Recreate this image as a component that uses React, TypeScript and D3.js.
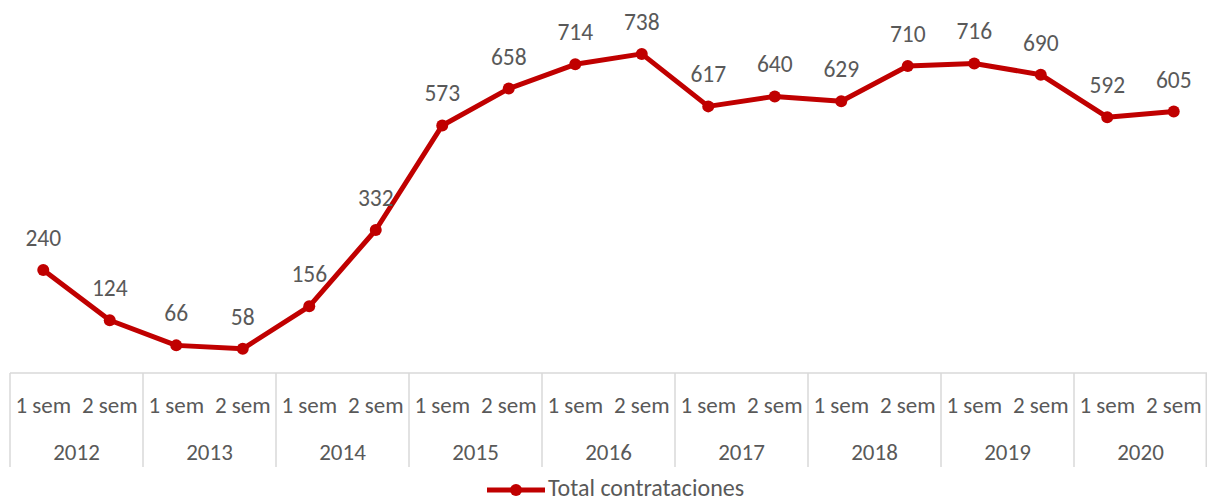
import React from "react";
import * as d3 from "d3";

const years = ["2012", "2013", "2014", "2015", "2016", "2017", "2018", "2019", "2020"];
const semesters = ["1 sem", "2 sem"];
const values = [240, 124, 66, 58, 156, 332, 573, 658, 714, 738, 617, 640, 629, 710, 716, 690, 592, 605];
const seriesName = "Total contrataciones";

const W = 1207;
const H = 500;
const left = 10;
const right = 1207;
const axisY = 373;
const FONT = "Calibri, Carlito, 'Open Sans', 'Liberation Sans', sans-serif";
const RED = "#C00000";
const TXT = "#595959";

export default function App() {
  const cats = years.flatMap((y) => semesters.map((s) => `${y}-${s}`));
  const x = d3.scaleBand<string>().domain(cats).range([left, right]);
  const xYear = d3.scaleBand<string>().domain(years).range([left, right]);
  const y = d3.scaleLinear().domain([0, 800]).range([374, 27]);
  const cx = (i: number) => (x(cats[i]) as number) + x.bandwidth() / 2;
  const line = d3
    .line<number>()
    .x((_, i) => cx(i))
    .y((d) => y(d));

  return (
    <svg width={W} height={H} style={{ position: "absolute", left: 0, top: 0 }}>
      <rect width={W} height={H} fill="#fff" />
      <line x1={left} x2={right} y1={axisY} y2={axisY} stroke="#d9d9d9" strokeWidth={1.5} />
      {years.map((yr) => {
        const x0 = xYear(yr) as number;
        return <line key={yr} x1={x0} x2={x0} y1={axisY} y2={467} stroke="#d9d9d9" strokeWidth={1.5} />;
      })}
      <line x1={right - 0.75} x2={right - 0.75} y1={axisY} y2={467} stroke="#d9d9d9" strokeWidth={1.5} />
      {cats.map((c, i) => (
        <text key={c} x={cx(i)} y={413} textAnchor="middle" fontFamily={FONT} fontSize={23} fill={TXT}>
          {semesters[i % 2]}
        </text>
      ))}
      {years.map((yr) => (
        <text
          key={yr}
          x={(xYear(yr) as number) + xYear.bandwidth() / 2}
          y={460}
          textAnchor="middle"
          fontFamily={FONT}
          fontSize={23}
          fill={TXT}
        >
          {yr}
        </text>
      ))}
      <path d={line(values) || ""} fill="none" stroke={RED} strokeWidth={5} strokeLinejoin="round" />
      {values.map((v, i) => (
        <circle key={i} cx={cx(i)} cy={y(v)} r={6} fill={RED} />
      ))}
      {values.map((v, i) => (
        <text key={"l" + i} x={cx(i)} y={y(v) - 24} textAnchor="middle" fontFamily={FONT} fontSize={23.5} fill={TXT}>
          {v}
        </text>
      ))}
      <line x1={487} x2={545} y1={490} y2={490} stroke={RED} strokeWidth={5} />
      <circle cx={516} cy={490} r={6} fill={RED} />
      <text x={548} y={496} fontFamily={FONT} fontSize={24} fill={TXT}>
        {seriesName}
      </text>
    </svg>
  );
}
